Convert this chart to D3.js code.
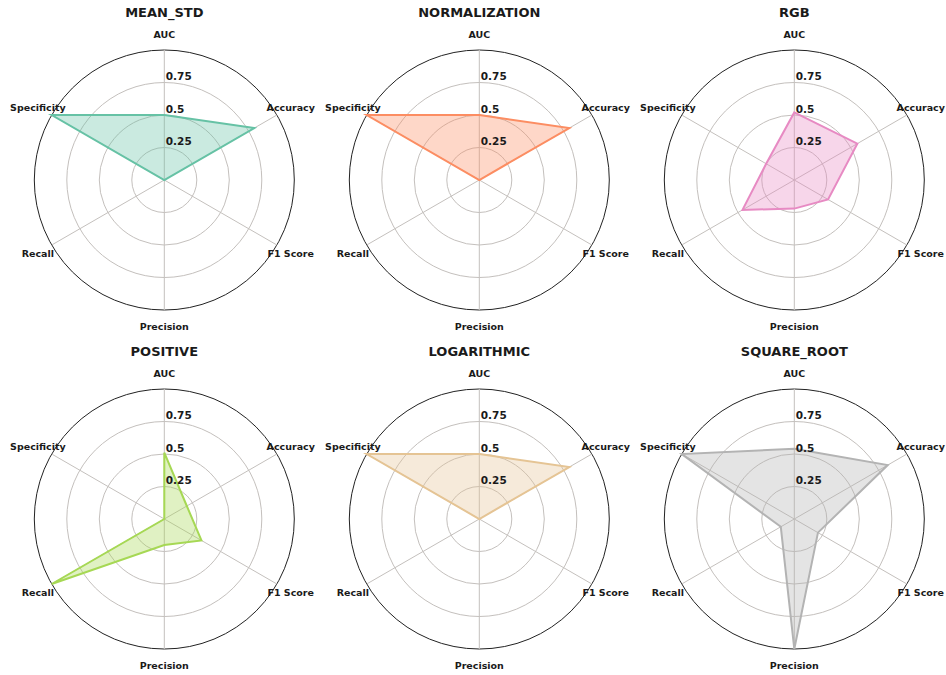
<!DOCTYPE html>
<html lang="en">
<head>
<meta charset="utf-8">
<title>Radar charts</title>
<script src="https://cdn.jsdelivr.net/npm/d3@7"></script>
<style>
  body { margin: 0; background: #fff; }
  text { font-family: "DejaVu Sans", sans-serif; font-weight: bold; fill: #1a1a1a; }
</style>
</head>
<body>
<script>
// axes of every radar, clockwise from the top
const metrics = ["AUC", "Accuracy", "F1 Score", "Precision", "Recall", "Specificity"];
const methods = ["MEAN_STD", "NORMALIZATION", "RGB", "POSITIVE", "LOGARITHMIC", "SQUARE_ROOT"];
const ticks = [0.25, 0.5, 0.75, 1];
const tickLabels = ["0.25", "0.5", "0.75", ""];

// scores per method, same order as metrics
const meanStd = [0.5, 0.8, 0, 0, 0, 1];
const normalization = [0.5, 0.8, 0, 0, 0, 1];
const rgb = [0.52, 0.56, 0.3, 0.22, 0.46, 0.25];
const positive = [0.51, 0.2, 0.33, 0.2, 1, 0];
const logarithmic = [0.5, 0.8, 0, 0, 0, 1];
const squareRoot = [0.54, 0.83, 0.21, 1, 0.12, 1];
const colors = ["#66c2a5", "#fc8d62", "#e78ac3", "#a6d854", "#e5c494", "#b3b3b3"];

const series = [meanStd, normalization, rgb, positive, logarithmic, squareRoot];

const width = 946, height = 675;
const R = 130;

const svg = d3.select("body").append("svg")
    .attr("width", width)
    .attr("height", height);

const col = d3.scalePoint().domain([0, 1, 2]).range([164.3, 794.3]);
const row = d3.scalePoint().domain([0, 1]).range([180, 519]);
const r = d3.scaleLinear().domain([0, 1]).range([0, R]);
const angle = d3.scalePoint().domain(metrics).range([0, 2 * Math.PI * 5 / 6]);

methods.forEach(function(name, i) {
  const g = svg.append("g")
      .attr("transform", "translate(" + col(i % 3) + "," + row(Math.floor(i / 3)) + ")");

  // rings
  g.selectAll("circle.ring")
    .data(ticks)
    .enter().append("circle")
      .attr("r", d => r(d))
      .attr("fill", "none")
      .attr("stroke", d => d === 1 ? "#222" : "#c4c0bd")
      .attr("stroke-width", 1);

  // spokes
  g.selectAll("line.spoke")
    .data(metrics)
    .enter().append("line")
      .attr("x1", 0).attr("y1", 0)
      .attr("x2", d => r(1) * Math.sin(angle(d)))
      .attr("y2", d => -r(1) * Math.cos(angle(d)))
      .attr("stroke", "#c4c0bd")
      .attr("stroke-width", 1);

  const vals = series[i];

  const area = d3.areaRadial()
      .angle((d, j) => angle(metrics[j]))
      .innerRadius(0)
      .outerRadius(d => r(d))
      .curve(d3.curveLinearClosed);

  const line = d3.lineRadial()
      .angle((d, j) => angle(metrics[j]))
      .radius(d => r(d))
      .curve(d3.curveLinearClosed);

  g.append("path")
      .attr("d", area(vals))
      .attr("fill", colors[i])
      .attr("fill-opacity", 0.35);

  g.append("path")
      .attr("d", line(vals))
      .attr("fill", "none")
      .attr("stroke", colors[i])
      .attr("stroke-width", 2)
      .attr("stroke-linejoin", "miter");

  // radial tick labels
  g.selectAll("text.tick")
    .data(ticks.filter((d, k) => tickLabels[k] !== ""))
    .enter().append("text")
      .attr("x", 1.5)
      .attr("y", d => -r(d) - 2.5)
      .attr("font-size", "10.5px")
      .text(d => tickLabels[ticks.indexOf(d)]);

  // axis labels
  g.selectAll("text.axis")
    .data(metrics)
    .enter().append("text")
      .attr("x", d => 146 * Math.sin(angle(d)))
      .attr("y", d => -146 * Math.cos(angle(d)))
      .attr("text-anchor", "middle")
      .attr("dominant-baseline", "central")
      .attr("font-size", "9.5px")
      .text(d => d);

  // title
  g.append("text")
      .attr("x", 0)
      .attr("y", -163)
      .attr("text-anchor", "middle")
      .attr("font-size", "13px")
      .text(name);
});
</script>
</body>
</html>
